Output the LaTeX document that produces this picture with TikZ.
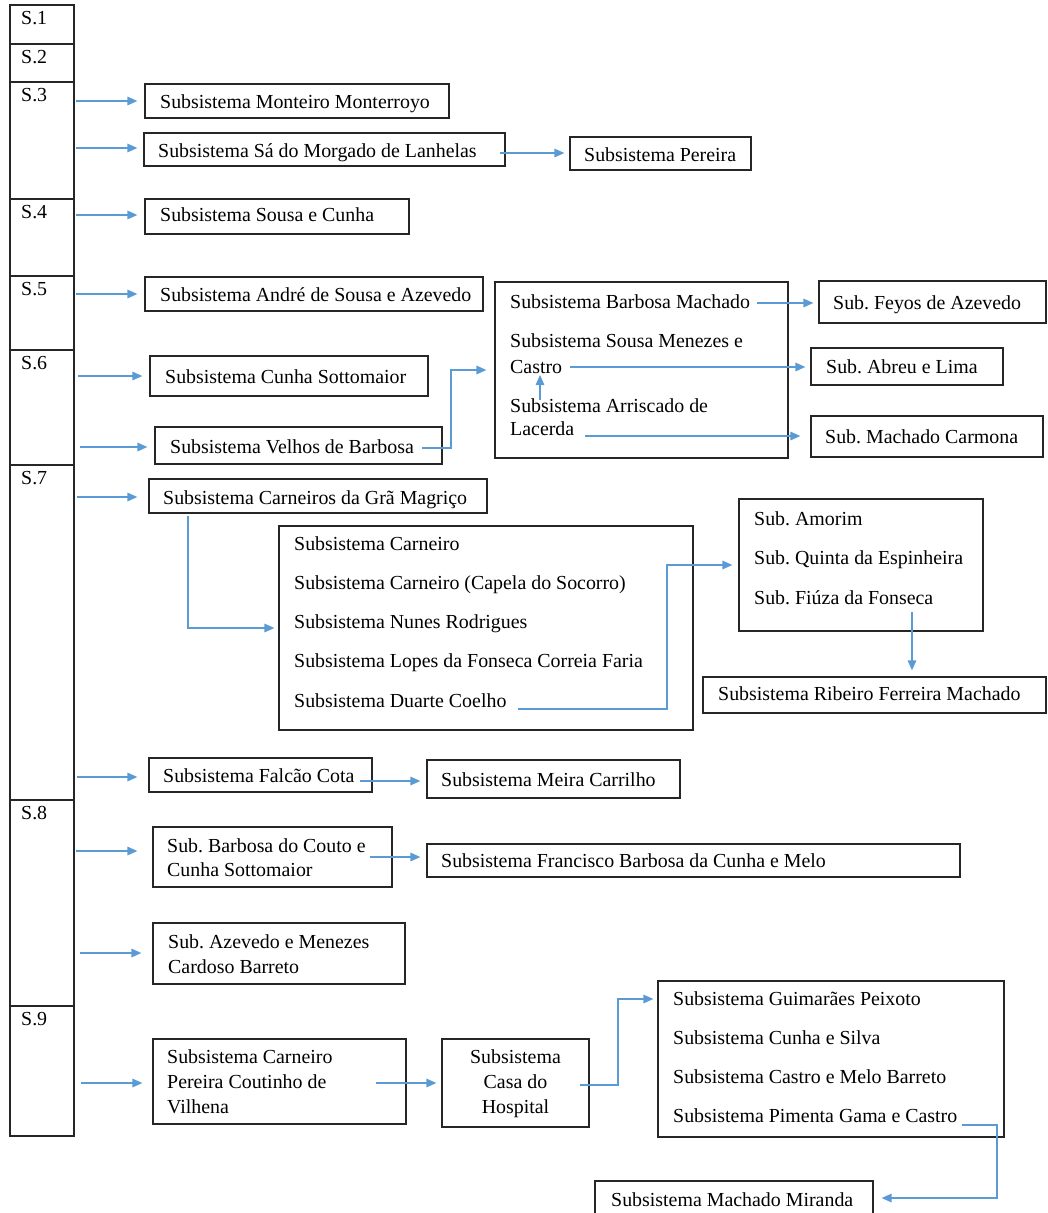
\documentclass[tikz,border=0pt]{standalone}
\usepackage{fontspec}
\setmainfont{Liberation Serif}
\usetikzlibrary{arrows.meta,fit,calc}
\definecolor{wblue}{HTML}{5B9BD5}
\frenchspacing
\begin{document}
\begin{tikzpicture}[x=1pt,y=-1pt,
  box/.style={draw=black!85,line width=1.2pt,inner sep=0pt},
  frame/.style={draw=black!85,line width=1.2pt},
  txt/.style={inner sep=0pt,anchor=base west,font=\fontsize{19.9}{24.5}\selectfont\frenchspacing},
  mtxt/.style={txt,text width=420pt,align=flush left,font=\fontsize{19.9}{#1}\selectfont\frenchspacing},
  arr/.style={draw=wblue,line width=1.5pt,-{Triangle[length=10pt,width=8.5pt]}},
  gap/.style={shorten >=#1}]
\useasboundingbox (0,0) rectangle (1048,1213);
\clip (0,0) rectangle (1048,1213);

% ---- left column ----
\node[box,fit={(10,5)(74,1136)}] (col) {};
\foreach \yy in {44,82,199,276,350,465,800,1006}{
  \draw[frame] (col.west |- 0,\yy) -- (col.east |- 0,\yy);
}
\node[txt] (s1) at (21,24) {S.1};
\node[txt] (s2) at (21,63) {S.2};
\node[txt] (s3) at (21,101) {S.3};
\node[txt] (s4) at (21,218) {S.4};
\node[txt] (s5) at (21,295) {S.5};
\node[txt] (s6) at (21,369) {S.6};
\node[txt] (s7) at (21,484) {S.7};
\node[txt] (s8) at (21,819) {S.8};
\node[txt] (s9) at (21,1025) {S.9};

% ---- boxes ----
\node[box,fit={(145,84)(449,118)}] (b1) {};
\node[txt] (t1) at (160,108) {Subsistema Monteiro Monterroyo};
\node[box,fit={(144,133)(505,166)}] (b2) {};
\node[txt] (t2) at (158,157) {Subsistema Sá do Morgado de Lanhelas};
\node[box,fit={(570,137)(751,170)}] (b3) {};
\node[txt] (t3) at (584,161) {Subsistema Pereira};
\node[box,fit={(145,199)(409,234)}] (b4) {};
\node[txt] (t4) at (160,221) {Subsistema Sousa e Cunha};
\node[box,fit={(145,277)(483,311)}] (b5) {};
\node[txt] (t5) at (160,301) {Subsistema André de Sousa e Azevedo};
\node[box,fit={(150,356)(428,396)}] (b6) {};
\node[txt] (t6) at (165,383) {Subsistema Cunha Sottomaior};
\node[box,fit={(155,427)(442,464)}] (b7) {};
\node[txt] (t7) at (170,453) {Subsistema Velhos de Barbosa};

\node[box,fit={(495,282)(788,458)}] (b8) {};
\node[txt] (t8a) at (510,308) {Subsistema Barbosa Machado};
\node[mtxt=26] (t8b) at (510,347) {Subsistema Sousa Menezes e\\Castro};
\node[mtxt=23] (t8c) at (510,412) {Subsistema Arriscado de\\Lacerda};

\node[box,fit={(819,281)(1046,323)}] (f1) {};
\node[txt] (tf1) at (833,309) {Sub. Feyos de Azevedo};
\node[box,fit={(811,348)(1003,385)}] (f2) {};
\node[txt] (tf2) at (826,373) {Sub. Abreu e Lima};
\node[box,fit={(811,416)(1043,457)}] (f3) {};
\node[txt] (tf3) at (825,443) {Sub. Machado Carmona};

\node[box,fit={(149,479)(487,513)}] (b9) {};
\node[txt] (t9) at (163,504) {Subsistema Carneiros da Grã Magriço};

\node[box,fit={(279,526)(693,730)}] (b10) {};
\node[mtxt=39.25] (t10) at (294,550) {Subsistema Carneiro\\Subsistema Carneiro (Capela do Socorro)\\Subsistema Nunes Rodrigues\\Subsistema Lopes da Fonseca Correia Faria\\Subsistema Duarte Coelho};

\node[box,fit={(739,499)(983,631)}] (b11) {};
\node[mtxt=39.5] (t11) at (754,525) {Sub. Amorim\\Sub. Quinta da Espinheira\\Sub. Fiúza da Fonseca};

\node[box,fit={(703,677)(1046,713)}] (b12) {};
\node[txt] (t12) at (718,700) {Subsistema Ribeiro Ferreira Machado};

\node[box,fit={(149,758)(372,792)}] (b13) {};
\node[txt] (t13) at (163,782) {Subsistema Falcão Cota};
\node[box,fit={(427,760)(680,798)}] (b14) {};
\node[txt] (t14) at (441,786) {Subsistema Meira Carrilho};

\node[box,fit={(153,827)(392,887)}] (b15) {};
\node[mtxt=24] (t15) at (167,852) {Sub. Barbosa do Couto e\\Cunha Sottomaior};
\node[box,fit={(427,844)(960,877)}] (b16) {};
\node[txt] (t16) at (441,867) {Subsistema Francisco Barbosa da Cunha e Melo};

\node[box,fit={(153,923)(405,984)}] (b17) {};
\node[mtxt=25] (t17) at (168,948) {Sub. Azevedo e Menezes\\Cardoso Barreto};

\node[box,fit={(153,1039)(406,1124)}] (b18) {};
\node[mtxt=25] (t18) at (167,1063) {Subsistema Carneiro\\Pereira Coutinho de\\Vilhena};
\node[box,fit={(442,1039)(589,1127)}] (b19) {};
\node[txt,anchor=base,text width=140pt,align=flush center,font=\fontsize{19.9}{25}\selectfont] (t19) at (515.5,1063) {Subsistema\\Casa do\\Hospital};

\node[box,fit={(658,981)(1004,1137)}] (b20) {};
\node[mtxt=39.3] (t20) at (673,1005) {Subsistema Guimarães Peixoto\\Subsistema Cunha e Silva\\Subsistema Castro e Melo Barreto\\Subsistema Pimenta Gama e Castro};

\node[box,fit={(595,1181)(873,1230)}] (b21) {};
\node[txt] (t21) at (611,1206) {Subsistema Machado Miranda};

% ---- connectors from the column ----
\coordinate (c1) at (76,101);
\coordinate (c2) at (76,148);
\coordinate (c3) at (76,215);
\coordinate (c4) at (76,294);
\coordinate (c5) at (78,376);
\coordinate (c6) at (80,447);
\coordinate (c7) at (77,497);
\coordinate (c8) at (77,777);
\coordinate (c9) at (76,851);
\coordinate (c10) at (80,953);
\coordinate (c11) at (81,1083);
\draw[arr,gap=7pt] (c1) -- (c1 -| b1.west);
\draw[arr,gap=6pt] (c2) -- (c2 -| b2.west);
\draw[arr,gap=7pt] (c3) -- (c3 -| b4.west);
\draw[arr,gap=7pt] (c4) -- (c4 -| b5.west);
\draw[arr,gap=7pt] (c5) -- (c5 -| b6.west);
\draw[arr,gap=7pt] (c6) -- (c6 -| b7.west);
\draw[arr,gap=11pt] (c7) -- (c7 -| b9.west);
\draw[arr,gap=11pt] (c8) -- (c8 -| b13.west);
\draw[arr,gap=15pt] (c9) -- (c9 -| b15.west);
\draw[arr,gap=11pt] (c10) -- (c10 -| b17.west);
\draw[arr,gap=10pt] (c11) -- (c11 -| b18.west);

% ---- other connectors ----
\coordinate (d1) at (500,153);
\draw[arr,gap=5pt] (d1) -- (d1 -| b3.west);

\coordinate (d2) at (422,448);
\draw[arr,gap=8pt] (d2) -- (451,448) |- (b8.west);

\coordinate (d3) at (540,400);
\coordinate (d3e) at (540,375);
\draw[arr] (d3) -- (d3e);

\coordinate (d4) at (757,303);
\draw[arr,gap=5pt] (d4) -- (d4 -| f1.west);
\coordinate (d5) at (570,367);
\draw[arr,gap=5pt] (d5) -- (d5 -| f2.west);
\coordinate (d6) at (585,436);
\draw[arr,gap=10pt] (d6) -- (d6 -| f3.west);

\coordinate (d7) at (188,516);
\draw[arr,gap=4pt] (d7) |- (b10.west);

\coordinate (d8) at (518,709);
\draw[arr,gap=6pt] (d8) -- (667,709) |- (b11.west);

\coordinate (d9) at (912,612);
\draw[arr,gap=6pt] (d9) -- (d9 |- b12.north);

\coordinate (d10) at (360,781);
\draw[arr,gap=6pt] (d10) -- (d10 -| b14.west);
\coordinate (d11) at (370,857);
\draw[arr,gap=6pt] (d11) -- (d11 -| b16.west);
\coordinate (d12) at (376,1083);
\draw[arr,gap=5pt] (d12) -- (d12 -| b19.west);

\coordinate (d13) at (580,1085);
\coordinate (d13k) at (618,999);
\draw[arr,gap=4pt] (d13) -- (618,1085) -- (d13k) -- (d13k -| b20.west);

\coordinate (d14) at (962,1125);
\coordinate (d14k) at (997,1198);
\draw[arr,gap=8pt] (d14) -- (997,1125) -- (d14k) -- (d14k -| b21.east);
\end{tikzpicture}
\end{document}
